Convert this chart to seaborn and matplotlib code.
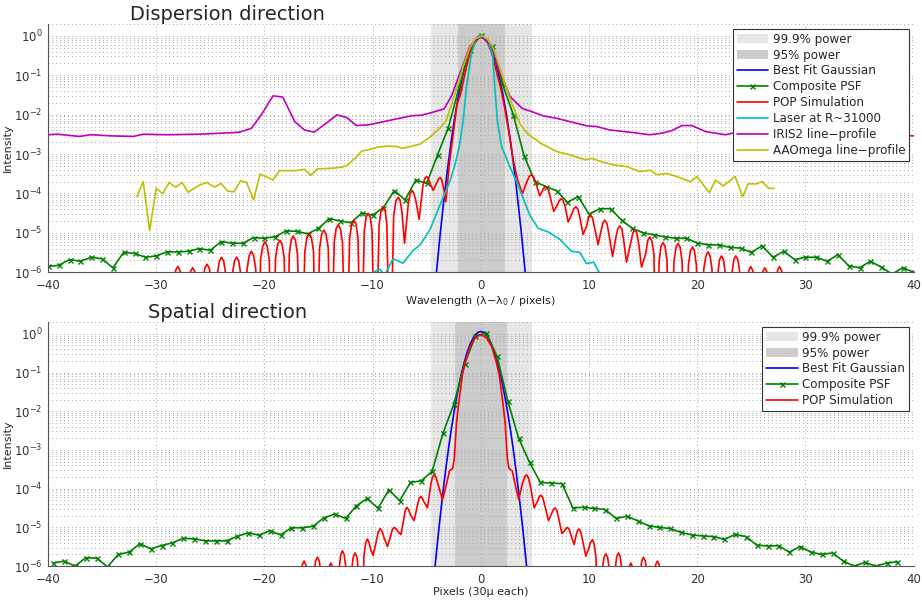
import numpy as np
import matplotlib
matplotlib.use("Agg")
import matplotlib.pyplot as plt
import seaborn as sns
from matplotlib.lines import Line2D
from matplotlib.patches import Patch
from matplotlib.ticker import FixedLocator, NullFormatter

# ------------------------------------------------------------------
# values (intensity, normalised to peak ~1)
# 1e-9 marks a fringe null that falls below the plotted floor
# ------------------------------------------------------------------

# shaded power regions (pixels)
span999_disp = (-4.62, 4.71)
span95_disp = (-2.1, 2.2)
span999_spat = (-4.63, 4.71)
span95_spat = (-2.4, 2.43)

# best fit gaussian
gauss_x = [-4.5, -4.25, -4.0, -3.75, -3.5, -3.25, -3.0, -2.75, -2.5, -2.25, -2.0, -1.75, -1.5,
           -1.25, -1.0, -0.75, -0.5, -0.25, 0.0, 0.25, 0.5, 0.75, 1.0, 1.25, 1.5, 1.75, 2.0,
           2.25, 2.5, 2.75, 3.0, 3.25, 3.5, 3.75, 4.0, 4.25, 4.5]
gauss_disp = [6e-8, 3.6e-7, 1.9e-6, 9.5e-6, 4.2e-5, 1.7e-4, 6.1e-4, 2.0e-3, 5.9e-3, 0.0156, 0.0374,
              0.0807, 0.157, 0.277, 0.440, 0.630, 0.814, 0.950, 1.0, 0.950, 0.814, 0.630, 0.440,
              0.277, 0.157, 0.0807, 0.0374, 0.0156, 5.9e-3, 2.0e-3, 6.1e-4, 1.7e-4, 4.2e-5, 9.5e-6,
              1.9e-6, 3.6e-7, 6e-8]
gauss_spat = [1.6e-7, 8.6e-7, 4.3e-6, 1.94e-5, 8.0e-5, 3.0e-4, 1.02e-3, 3.13e-3, 8.7e-3, 0.022,
              0.0505, 0.105, 0.198, 0.339, 0.527, 0.741, 0.946, 1.095, 1.15, 1.095, 0.946, 0.741,
              0.527, 0.339, 0.198, 0.105, 0.0505, 0.022, 8.7e-3, 3.13e-3, 1.02e-3, 3.0e-4, 8.0e-5,
              1.94e-5, 4.3e-6, 8.6e-7, 1.6e-7]

# composite PSF (one point per pixel)
psf_disp_x = np.arange(-40, 41, 1)
psf_disp = [1.4e-6, 1.5e-6, 2.1e-6, 1.9e-6, 2.4e-6, 2.2e-6, 1.3e-6, 3.2e-6, 3.0e-6, 2.4e-6,
            2.6e-6, 3.3e-6, 3.3e-6, 3.4e-6, 4.0e-6, 3.6e-6, 6.0e-6, 5.5e-6, 5.4e-6, 7.6e-6,
            7.3e-6, 8.0e-6, 1.12e-5, 1.1e-5, 9.4e-6, 1.3e-5, 2.3e-5, 2.0e-5, 1.8e-5, 3.2e-5,
            2.8e-5, 4.4e-5, 1.18e-4, 6.9e-5, 2.2e-4, 1.8e-4, 9.5e-4, 4.7e-3, 0.05, 0.45,
            1.05, 0.55, 0.06, 1.0e-2, 9e-4, 2e-4, 1.5e-4, 1.17e-4, 6e-5, 8.3e-5,
            3.0e-5, 4.1e-5, 4.1e-5, 2.1e-5, 1.3e-5, 1.0e-5, 8.9e-6, 7.9e-6, 7.3e-6, 7.3e-6,
            5.5e-6, 5.0e-6, 4.9e-6, 4.3e-6, 4.1e-6, 3.2e-6, 4.7e-6, 2.4e-6, 3.4e-6, 2.1e-6,
            2.4e-6, 2.4e-6, 1.9e-6, 2.8e-6, 1.45e-6, 1.3e-6, 1.9e-6, 1.35e-6, 9e-7, 1.3e-6, 1.0e-6]
psf_spat_x = np.arange(-39.5, 39.0, 1.0)
psf_spat = [1.2e-6, 1.35e-6, 1.0e-6, 1.66e-6, 1.6e-6, 9.6e-7, 2.0e-6, 2.3e-6, 3.8e-6, 2.8e-6,
            3.4e-6, 4.0e-6, 5.2e-6, 5.1e-6, 4.5e-6, 4.5e-6, 4.5e-6, 5.9e-6, 7.2e-6, 6.3e-6,
            8.2e-6, 6.4e-6, 9.8e-6, 9.8e-6, 1.07e-5, 1.77e-5, 2.2e-5, 1.7e-5, 3.6e-5, 5.6e-5,
            3.1e-5, 9.4e-5, 4.9e-5, 1.45e-4, 1.6e-4, 2.8e-4, 2.7e-3, 0.015, 0.17, 0.87,
            1.05, 0.26, 0.018, 2.0e-3, 4.8e-4, 1.45e-4, 1.4e-4, 1.35e-4, 3.2e-5, 3.3e-5,
            3.1e-5, 2.9e-5, 1.7e-5, 1.95e-5, 1.48e-5, 1.1e-5, 1.0e-5, 9.4e-6, 7.4e-6, 6.4e-6,
            6.0e-6, 5.8e-6, 4.9e-6, 6.6e-6, 5.8e-6, 3.5e-6, 3.3e-6, 3.4e-6, 2.3e-6, 3.2e-6,
            2.3e-6, 2.0e-6, 2.2e-6, 1.35e-6, 1.0e-6, 1.25e-6, 1.0e-6, 1.2e-6, 1.3e-6]

# POP simulation, traced fringe by fringe (null, flank, flank, peak, flank, flank, ...)
pop_disp_x = [
    -28.7, -28.4, -28.2, -28.0, -27.8, -27.6,
    -27.3, -27.03, -26.83, -26.63, -26.43, -26.23,
    -25.97, -25.7, -25.5, -25.3, -25.1, -24.9,
    -24.63, -24.36, -24.16, -23.96, -23.76, -23.56,
    -23.27, -22.97, -22.77, -22.57, -22.37, -22.17,
    -21.9, -21.6, -21.4, -21.2, -21.0, -20.8,
    -20.6, -20.35, -20.15, -19.95, -19.75, -19.55,
    -19.26, -18.97, -18.77, -18.57, -18.37, -18.17,
    -17.9, -17.7, -17.52, -17.34, -17.14, -16.94,
    -16.6, -16.26, -16.06, -15.86, -15.66, -15.46,
    -15.2, -14.9, -14.7, -14.5, -14.3, -14.1,
    -13.85, -13.55, -13.37, -13.18, -12.98, -12.78,
    -12.45, -12.12, -11.93, -11.73, -11.53, -11.35,
    -11.07, -10.77, -10.6, -10.41, -10.22, -10.05,
    -9.75, -9.4, -9.22, -9.02, -8.84, -8.68,
    -8.4, -8.05, -7.85, -7.64, -7.45, -7.28,
    -7.05, -6.7, -6.52, -6.35, -6.18, -6.0,
    -5.7, -5.35, -5.18, -5.02, -4.86, -4.7,
    -4.4, -4.05, -3.88, -3.72, -3.58, -3.45,
    -3.23, -2.9, -2.6, -2.2, -1.85, -1.5, -1.0, -0.5, 0.0, 0.5, 1.0, 1.5, 1.85, 2.2, 2.6,
    3.0, 3.4,
    3.85, 4.25, 4.47, 4.68, 4.9, 5.12,
    5.45, 5.68, 5.84, 6.0, 6.2, 6.42,
    6.74, 7.05, 7.25, 7.45, 7.62, 7.8,
    8.07, 8.4, 8.6, 8.78, 8.97, 9.15,
    9.45, 9.78, 9.95, 10.13, 10.32, 10.5,
    10.84, 11.1, 11.28, 11.45, 11.65, 11.85,
    12.17, 12.45, 12.65, 12.84, 13.03, 13.2,
    13.46, 13.85, 14.05, 14.23, 14.42, 14.6,
    14.85, 15.22, 15.42, 15.61, 15.8, 16.0,
    16.2, 16.48, 16.66, 16.84, 17.02, 17.2,
    17.5, 17.85, 18.04, 18.23, 18.42, 18.6,
    18.9, 19.18, 19.37, 19.55, 19.74, 19.92,
    20.25, 20.6, 20.8, 21.0, 21.18, 21.36,
    21.6, 21.9, 22.06, 22.23, 22.42, 22.6,
    22.9, 23.2, 23.38, 23.56, 23.75, 23.95,
    24.25, 24.58, 24.76, 24.94, 25.12, 25.3,
    25.6, 25.88, 26.06, 26.24, 26.42, 26.6,
    26.9, 27.24, 27.42, 27.6, 27.78, 27.96,
    28.3]
pop_disp = [
    1e-9, 4.9e-7, 1.12e-6, 1.4e-6, 1.12e-6, 4.9e-7,
    1e-9, 4.6e-7, 1.04e-6, 1.3e-6, 1.04e-6, 4.6e-7,
    1e-9, 5.6e-7, 1.28e-6, 1.6e-6, 1.28e-6, 5.6e-7,
    1e-9, 8.4e-7, 1.92e-6, 2.4e-6, 1.92e-6, 8.4e-7,
    1e-9, 8.4e-7, 1.92e-6, 2.4e-6, 1.92e-6, 8.4e-7,
    1e-9, 1.2e-6, 2.7e-6, 3.4e-6, 2.7e-6, 1.2e-6,
    1e-9, 2.1e-6, 4.7e-6, 5.9e-6, 4.7e-6, 2.1e-6,
    1e-9, 2.3e-6, 5.2e-6, 6.5e-6, 5.2e-6, 2.3e-6,
    1e-9, 2.9e-6, 6.6e-6, 8.3e-6, 6.6e-6, 2.9e-6,
    1e-9, 3.4e-6, 7.7e-6, 9.6e-6, 7.7e-6, 3.4e-6,
    1e-9, 4.1e-6, 9.4e-6, 1.17e-5, 9.4e-6, 4.1e-6,
    1e-9, 5.6e-6, 1.28e-5, 1.6e-5, 1.28e-5, 5.6e-6,
    1e-9, 7.4e-6, 1.68e-5, 2.1e-5, 1.68e-5, 7.4e-6,
    1e-9, 1.1e-5, 2.5e-5, 3.1e-5, 2.5e-5, 1.1e-5,
    1e-9, 1.6e-5, 3.7e-5, 4.6e-5, 3.7e-5, 1.6e-5,
    1e-9, 2.8e-5, 6.4e-5, 8e-5, 6.6e-5, 3.2e-5,
    5.4e-6, 5.5e-5, 1.0e-4, 1.2e-4, 1.0e-4, 6.5e-5,
    2.2e-5, 1.6e-4, 2.4e-4, 2.7e-4, 2.4e-4, 1.8e-4,
    1.2e-4, 1.9e-4, 2.4e-4, 2.5e-4, 2.1e-4, 1.4e-4,
    6.2e-5, 6e-4, 2.5e-3, 0.018, 0.035, 0.1, 0.38, 0.78, 0.95, 0.78, 0.38, 0.11, 0.045, 0.015,
    3.5e-3, 7e-4, 2.2e-4,
    1.0e-4, 2e-4, 2.7e-4, 3e-4, 2.6e-4, 1.7e-4,
    8.7e-5, 1.15e-4, 1.4e-4, 1.5e-4, 1.3e-4, 8e-5,
    3.5e-5, 5e-5, 6.6e-5, 7.4e-5, 6.5e-5, 4.5e-5,
    1.9e-5, 3e-5, 4.1e-5, 4.6e-5, 4e-5, 2.5e-5,
    9.1e-6, 1.5e-5, 2.4e-5, 2.8e-5, 2.4e-5, 1.4e-5,
    5e-6, 1.1e-5, 1.8e-5, 2.1e-5, 1.75e-5, 9e-6,
    2.5e-6, 7e-6, 1.25e-5, 1.5e-5, 1.25e-5, 6.5e-6,
    1.8e-6, 5.5e-6, 1e-5, 1.2e-5, 1e-5, 5e-6,
    1.35e-6, 2.8e-6, 6.3e-6, 7.9e-6, 6.3e-6, 2.8e-6,
    1e-9, 2e-6, 4.6e-6, 5.7e-6, 4.6e-6, 2e-6,
    1e-9, 1.9e-6, 4.3e-6, 5.4e-6, 4.3e-6, 1.9e-6,
    1e-9, 1.5e-6, 3.5e-6, 4.4e-6, 3.5e-6, 1.5e-6,
    1e-9, 1.2e-6, 2.6e-6, 3.3e-6, 2.6e-6, 1.2e-6,
    1e-9, 9e-7, 2.1e-6, 2.6e-6, 2.1e-6, 9e-7,
    1e-9, 9e-7, 2.1e-6, 2.6e-6, 2.1e-6, 9e-7,
    1e-9, 4.9e-7, 1.12e-6, 1.4e-6, 1.12e-6, 4.9e-7,
    1e-9, 4.6e-7, 1.04e-6, 1.3e-6, 1.04e-6, 4.6e-7,
    1e-9, 4.9e-7, 1.12e-6, 1.4e-6, 1.12e-6, 4.9e-7,
    1e-9]

pop_spat_x = [
    -16.95, -16.68, -16.5, -16.33, -16.16, -15.98,
    -15.7, -15.45, -15.27, -15.1, -14.93, -14.75,
    -14.5, -14.2, -14.03, -13.86, -13.7, -13.53,
    -13.3, -13.08, -12.94, -12.79, -12.63, -12.47,
    -12.2, -11.94, -11.78, -11.62, -11.46, -11.32,
    -11.1, -10.8, -10.64, -10.48, -10.32, -10.16,
    -9.95, -9.65, -9.47, -9.3, -9.12, -8.95,
    -8.63, -8.3, -8.16, -8.01, -7.85, -7.68,
    -7.39, -7.12, -6.98, -6.84, -6.68, -6.5,
    -6.16, -5.85, -5.7, -5.55, -5.4, -5.22,
    -4.93, -4.62, -4.47, -4.32, -4.15, -3.95,
    -3.55, -3.2, -2.9, -2.6, -2.45, -2.25, -2.0, -1.7, -1.4, -1.0, -0.5, 0.0, 0.5, 1.0,
    1.4, 1.7, 2.0, 2.25, 2.45, 2.6, 2.9, 3.2,
    3.5, 3.85, 4.05, 4.22, 4.4, 4.6,
    4.93, 5.22, 5.38, 5.55, 5.72, 5.9,
    6.25, 6.55, 6.7, 6.87, 7.03, 7.2,
    7.49, 7.72, 7.86, 8.0, 8.15, 8.32,
    8.62, 8.82, 8.95, 9.08, 9.23, 9.4,
    9.7, 9.98, 10.14, 10.31, 10.47, 10.64,
    10.93, 11.2, 11.38, 11.55, 11.72, 11.9,
    12.17, 12.4, 12.56, 12.72, 12.88, 13.04,
    13.3, 13.54, 13.7, 13.86, 14.02, 14.2,
    14.5, 14.72, 14.87, 15.03, 15.2, 15.38,
    15.7, 15.98, 16.15, 16.32, 16.49, 16.66,
    17.0]
pop_spat = [
    1e-9, 4.7e-7, 1.08e-6, 1.35e-6, 1.08e-6, 4.7e-7,
    1e-9, 6e-7, 1.36e-6, 1.7e-6, 1.36e-6, 6e-7,
    1e-9, 4.2e-7, 9.6e-7, 1.2e-6, 9.6e-7, 4.2e-7,
    1e-9, 9e-7, 2e-6, 2.5e-6, 2e-6, 9e-7,
    1e-9, 8e-7, 1.76e-6, 2.2e-6, 1.76e-6, 8e-7,
    1e-9, 1.8e-6, 4e-6, 5e-6, 4e-6, 2.6e-6,
    1.9e-6, 4.5e-6, 7.8e-6, 9.3e-6, 7.8e-6, 5.5e-6,
    3.2e-6, 6.5e-6, 9e-6, 1e-5, 9.3e-6, 8e-6,
    6.5e-6, 1.6e-5, 2.8e-5, 3.3e-5, 2.9e-5, 2.1e-5,
    1.5e-5, 3.8e-5, 5.6e-5, 6.3e-5, 5.6e-5, 4.4e-5,
    3.2e-5, 1.3e-4, 2.0e-4, 2.3e-4, 2.0e-4, 1.3e-4,
    5.2e-5, 1.2e-4, 2.9e-4, 3.3e-4, 6e-4, 5e-3, 0.02, 0.087, 0.2, 0.47, 0.8, 0.95, 0.8, 0.47,
    0.2, 0.087, 0.02, 5e-3, 6e-4, 3.3e-4, 2.9e-4, 1.2e-4,
    5.2e-5, 1.4e-4, 2.0e-4, 2.3e-4, 1.9e-4, 1.1e-4,
    3.2e-5, 4.6e-5, 6.1e-5, 6.8e-5, 5.9e-5, 3.8e-5,
    1.5e-5, 2.3e-5, 2.9e-5, 3.2e-5, 2.7e-5, 1.7e-5,
    7e-6, 8e-6, 9.4e-6, 1e-5, 9e-6, 6.5e-6,
    3.6e-6, 6.5e-6, 8.4e-6, 9.1e-6, 7.6e-6, 4.8e-6,
    1.8e-6, 2.9e-6, 4.1e-6, 4.8e-6, 3.8e-6, 1.7e-6,
    1e-9, 7.4e-7, 1.68e-6, 2.1e-6, 1.68e-6, 7.4e-7,
    1e-9, 7.7e-7, 1.76e-6, 2.2e-6, 1.76e-6, 7.7e-7,
    1e-9, 4.2e-7, 9.6e-7, 1.2e-6, 9.6e-7, 4.2e-7,
    1e-9, 6e-7, 1.36e-6, 1.7e-6, 1.36e-6, 6e-7,
    1e-9, 4.7e-7, 1.08e-6, 1.35e-6, 1.08e-6, 4.7e-7,
    1e-9]

# laser at R~31000
laser_x = [-10.3, -9.95, -9.33, -8.9, -8.1, -7.2, -6.25, -5.6, -4.7, -3.79, -2.86, -2.4, -2.0,
           -1.63, -1.33, -0.86, -0.4, 0.0, 0.5, 1.08, 1.29, 1.53, 1.9, 2.62, 3.3, 4.53, 5.3,
           6.22, 7.3, 8.38, 9.15, 9.76, 10.44, 10.93, 11.2]
laser = [5e-7, 1.0e-6, 1.2e-6, 8.5e-7, 2.2e-6, 1.7e-6, 3.6e-6, 5e-6, 1.2e-5, 5e-5, 2e-4, 5.2e-4,
         1.5e-3, 7e-3, 0.05, 0.36, 0.85, 1.07, 0.8, 0.36, 0.05, 7e-3, 1.6e-3, 5.2e-4, 2e-4,
         2.8e-5, 1.3e-5, 1.06e-5, 6.9e-6, 3.4e-6, 3.2e-6, 1.66e-6, 1.8e-6, 1.0e-6, 6e-7]

# IRIS2 line profile
iris_x = [-40, -39.1, -37.1, -36.0, -34.2, -32.1, -31.2, -29.0, -26.0, -22.9, -22.3, -21.2,
          -20.3, -19.2, -18.3, -17.2, -16.3, -15.4, -14.2, -13.3, -12.4, -11.5, -10.4, -8.2,
          -6.4, -5.5, -4.7, -3.4, -2.7, -2.0, -1.0, 0.0, 1.0, 1.8, 2.7, 3.8, 4.7, 5.8, 7.0, 8.2,
          9.8, 10.7, 11.9, 14.1, 15.6, 16.8, 17.7, 18.6, 19.5, 20.8, 22.6, 23.9, 26, 29, 32,
          35, 38, 40]
iris = [3.1e-3, 3.2e-3, 2.8e-3, 3.1e-3, 2.9e-3, 2.8e-3, 3.2e-3, 3.1e-3, 3.2e-3, 3.5e-3, 3.6e-3,
        4.5e-3, 9.8e-3, 0.030, 0.028, 6.7e-3, 4.1e-3, 3.6e-3, 6.3e-3, 9.9e-3, 8.5e-3, 5.3e-3,
        5.5e-3, 7.4e-3, 9.4e-3, 9.7e-3, 0.011, 0.014, 0.03, 0.1, 0.55, 1.0, 0.55, 0.11, 0.029,
        0.0145, 0.012, 9.3e-3, 8.1e-3, 6.7e-3, 5.2e-3, 5.0e-3, 4.1e-3, 3.5e-3, 3.1e-3, 3.4e-3,
        4.0e-3, 5.3e-3, 5.3e-3, 3.7e-3, 3.1e-3, 3.7e-3, 3.4e-3, 3.1e-3, 3.0e-3, 3.2e-3,
        3.0e-3, 2.9e-3]

# AAOmega line profile
aao_x = [-31.78, -31.2, -30.6, -30.0, -29.4, -28.8, -28.2, -27.6, -27.05, -25.97, -25.3, -24.6,
         -24.0, -23.4, -22.8, -22.2, -21.65, -21.0, -20.4, -19.2, -18.6, -17.1, -16.3, -15.7,
         -15.1, -14.1, -12.9, -12.4, -11.6, -11.0, -10.3, -9.5, -8.6, -7.7, -7.3, -6.5, -5.6,
         -4.7, -3.8, -3.2, -2.3, -1.6, -1.0, -0.5, 0.1, 0.6, 1.2, 1.7, 2.11, 2.6, 3.03, 3.6,
         4.26, 5.49, 7.04, 8.27, 9.65, 10.27, 11.04, 12.27, 13.5, 14.7, 15.65, 16.27, 17.2,
         18.1, 19.35, 19.97, 21.1, 21.7, 22.4, 23.5, 24.2, 24.7, 25.5, 26.0, 26.6, 27.1]
aao = [8.3e-5, 2.0e-4, 1.15e-5, 1.35e-4, 9.8e-5, 1.9e-4, 1.45e-4, 1.9e-4, 1.07e-4, 1.65e-4,
       1.9e-4, 1.45e-4, 1.8e-4, 1.15e-4, 1.1e-4, 2.1e-4, 1.9e-4, 6.9e-5, 3.1e-4, 2.2e-4, 3.8e-4,
       3.8e-4, 4.1e-4, 2.9e-4, 4.2e-4, 4.3e-4, 4.6e-4, 5.1e-4, 7.9e-4, 1.2e-3, 1.3e-3, 1.5e-3,
       1.6e-3, 1.55e-3, 1.4e-3, 1.55e-3, 1.8e-3, 2.7e-3, 4.5e-3, 7e-3, 0.04, 0.18, 0.5, 0.85,
       1.0, 0.85, 0.45, 0.17, 0.076, 0.03, 0.015, 6e-3, 3.4e-3, 1.9e-3, 1.15e-3, 9.5e-4, 7.1e-4,
       7.8e-4, 6.5e-4, 5.3e-4, 4.8e-4, 3.6e-4, 3.9e-4, 3.0e-4, 3.2e-4, 2.7e-4, 2.0e-4, 2.7e-4,
       1.05e-4, 2.2e-4, 1.55e-4, 2.7e-4, 8.3e-5, 1.75e-4, 1.75e-4, 2.0e-4, 1.35e-4, 1.35e-4]

# axis ticks (kept inside the plotted range)
x_ticks = [-40, -30, -20, -10, 0, 10, 20, 30, 40]
y_ticks = [1e-6, 1e-5, 1e-4, 1e-3, 1e-2, 1e-1, 1e0]
y_minor = [k * d for d in y_ticks for k in range(2, 10) if k * d <= 2]

# MATLAB-like colour order
C_GAUSS = "#0000ff"
C_PSF = "#008000"
C_POP = "#ff0000"
C_LASER = "#00bfbf"
C_IRIS = "#bf00bf"
C_AAO = "#bfbf00"
C_999 = "#e6e6e6"
C_95 = "#cccccc"
C_GRID = "#a8a8a8"

sns.set_style("white")
plt.rcParams.update({
    "font.family": ["DejaVu Sans"],
    "xtick.direction": "in",
    "ytick.direction": "in",
    "axes.edgecolor": "#555555",
    "xtick.color": "#333333",
    "ytick.color": "#333333",
    "xtick.labelsize": 8.5,
    "ytick.labelsize": 8.5,
})

LW = 1.2
DOTS = (0, (1, 3))


def draw_line(ax, x, y, color, marker=None):
    kw = dict(ax=ax, x=x, y=y, color=color, lw=LW, sort=False, estimator=None, legend=False)
    if marker:
        kw.update(marker=marker, markersize=3.6, markeredgewidth=1.0, markeredgecolor=color)
    sns.lineplot(**kw)


def setup_axes(ax, span999, span95, xlabel):
    ax.axvspan(*span999, color=C_999, lw=0, zorder=0.1)
    ax.axvspan(*span95, color=C_95, lw=0, zorder=0.2)
    ax.set_yscale("log")
    ax.set_xlim(-40, 40)
    ax.set_ylim(1e-6, 2)
    ax.xaxis.set_major_locator(FixedLocator(x_ticks))
    ax.yaxis.set_major_locator(FixedLocator(y_ticks))
    ax.yaxis.set_minor_locator(FixedLocator(y_minor))
    ax.yaxis.set_minor_formatter(NullFormatter())
    ax.set_axisbelow(True)
    ax.grid(True, which="major", axis="both", ls=DOTS, lw=0.7, color=C_GRID, zorder=0.5)
    ax.grid(True, which="minor", axis="y", ls=DOTS, lw=0.7, color=C_GRID, zorder=0.5)
    ax.tick_params(axis="x", which="major", length=5, width=0.7, pad=5)
    ax.tick_params(axis="y", which="major", length=5, width=0.7, pad=4)
    ax.tick_params(which="minor", length=2.5, width=0.5)
    for side in ("top", "right"):
        ax.spines[side].set_visible(False)
    for side in ("left", "bottom"):
        ax.spines[side].set_linewidth(0.8)
    ax.set_xlabel(xlabel, fontsize=8, labelpad=1)
    ax.set_ylabel("Intensity", fontsize=8)
    ax.yaxis.set_label_coords(-0.041, 0.5)


def add_legend(ax, handles, labels):
    leg = ax.legend(handles, labels, loc="upper right", bbox_to_anchor=(0.995, 0.982),
                    borderaxespad=0, fontsize=8.6, frameon=True, fancybox=False, framealpha=1,
                    edgecolor="#333333", borderpad=0.35, labelspacing=0.24, handlelength=2.6,
                    handletextpad=0.4)
    leg.get_frame().set_linewidth(0.8)


fig = plt.figure(figsize=(9.22, 6.01), dpi=100)
ax_top = fig.add_axes([0.052, 0.547, 0.939, 0.413])
ax_bot = fig.add_axes([0.052, 0.058, 0.939, 0.406])

# ---- dispersion direction ----
draw_line(ax_top, gauss_x, gauss_disp, C_GAUSS)
draw_line(ax_top, psf_disp_x, psf_disp, C_PSF, marker="x")
draw_line(ax_top, pop_disp_x, pop_disp, C_POP)
draw_line(ax_top, laser_x, laser, C_LASER)
draw_line(ax_top, iris_x, iris, C_IRIS)
draw_line(ax_top, aao_x, aao, C_AAO)
setup_axes(ax_top, span999_disp, span95_disp, "Wavelength (\u03bb\u2212\u03bb$_{0}$ / pixels)")
ax_top.set_title("Dispersion direction", x=0.207, fontsize=14, pad=3)

# ---- spatial direction ----
draw_line(ax_bot, gauss_x, gauss_spat, C_GAUSS)
draw_line(ax_bot, psf_spat_x, psf_spat, C_PSF, marker="x")
draw_line(ax_bot, pop_spat_x, pop_spat, C_POP)
setup_axes(ax_bot, span999_spat, span95_spat, "Pixels (30\u00b5 each)")
ax_bot.set_title("Spatial direction", x=0.207, fontsize=14, pad=3)

h_999 = Patch(facecolor=C_999, edgecolor="none")
h_95 = Patch(facecolor=C_95, edgecolor="none")
h_gauss = Line2D([], [], color=C_GAUSS, lw=LW)
h_psf = Line2D([], [], color=C_PSF, lw=LW, marker="x", markersize=3.6, markeredgewidth=1.0)
h_pop = Line2D([], [], color=C_POP, lw=LW)
h_laser = Line2D([], [], color=C_LASER, lw=LW)
h_iris = Line2D([], [], color=C_IRIS, lw=LW)
h_aao = Line2D([], [], color=C_AAO, lw=LW)

add_legend(ax_top,
           [h_999, h_95, h_gauss, h_psf, h_pop, h_laser, h_iris, h_aao],
           ["99.9% power", "95% power", "Best Fit Gaussian", "Composite PSF", "POP Simulation",
            "Laser at R~31000", "IRIS2 line\u2212profile", "AAOmega line\u2212profile"])
add_legend(ax_bot,
           [h_999, h_95, h_gauss, h_psf, h_pop],
           ["99.9% power", "95% power", "Best Fit Gaussian", "Composite PSF", "POP Simulation"])

fig.savefig("out.png", dpi=100)
